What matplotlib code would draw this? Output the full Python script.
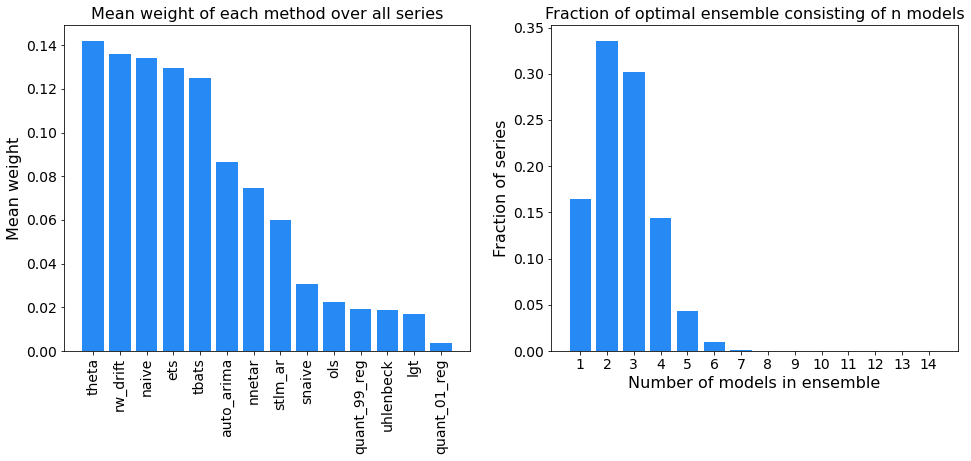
import matplotlib
matplotlib.use("Agg")
import matplotlib.pyplot as plt
import numpy as np

methods = ["theta", "rw_drift", "naive", "ets", "tbats", "auto_arima", "nnetar",
           "stlm_ar", "snaive", "ols", "quant_99_reg", "uhlenbeck", "lgt", "quant_01_reg"]
mean_weights = [0.1422, 0.1358, 0.1344, 0.1294, 0.1252, 0.0867, 0.0748,
                0.0601, 0.0307, 0.0225, 0.0193, 0.0188, 0.0170, 0.0037]

n_models = list(range(1, 15))
fractions = [0.1649, 0.3360, 0.3015, 0.1443, 0.0434, 0.0098, 0.0015,
             0.0, 0.0, 0.0, 0.0, 0.0, 0.0, 0.0]

color = "#2789f3"

fig = plt.figure(figsize=(971 / 72, 461 / 72), dpi=72)
ax1 = fig.add_axes([0.0659, 0.2386, 0.4181, 0.7072])
ax2 = fig.add_axes([0.5675, 0.2386, 0.4191, 0.7072])

x = np.arange(len(methods))
ax1.bar(x, mean_weights, color=color)
ax1.set_xticks(x)
ax1.set_xticklabels(methods, rotation=90)
ax1.set_ylabel("Mean weight", fontsize=16)
ax1.set_title("Mean weight of each method over all series", fontsize=16)
ax1.tick_params(labelsize=14)

ax2.bar(n_models, fractions, color=color)
ax2.set_xticks(n_models)
ax2.set_xlabel("Number of models in ensemble", fontsize=16)
ax2.set_ylabel("Fraction of series", fontsize=16)
ax2.set_title("Fraction of optimal ensemble consisting of n models", fontsize=16)
ax2.tick_params(labelsize=14)

fig.savefig("out.png", dpi=72)
